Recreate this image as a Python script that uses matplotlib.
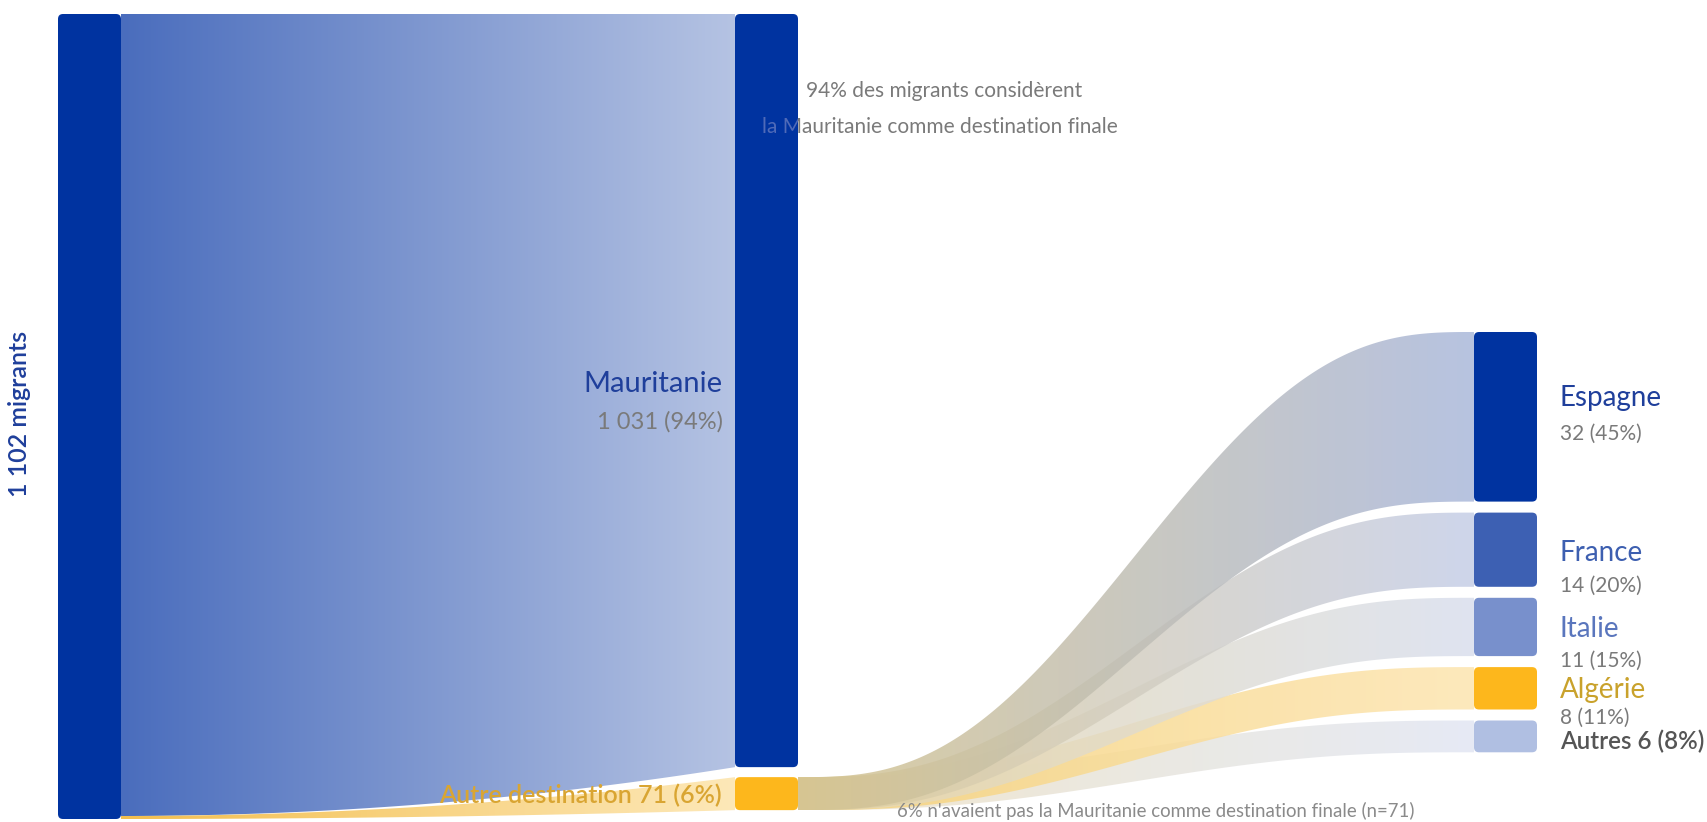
import numpy as np
import matplotlib.pyplot as plt
from matplotlib.patches import FancyBboxPatch, Polygon
from matplotlib.colors import to_rgb
from matplotlib.transforms import Bbox, TransformedBbox

plt.rcParams['font.family'] = ['Lato', 'DejaVu Sans']

# first step: final destination declared by all migrants
total = 1102
first_labels = ['Mauritanie', 'Autre destination']
first_values = [1031, 71]
first_shares = [94, 6]

# second step: breakdown of the "autre destination" group
second_labels = ['Espagne', 'France', 'Italie', 'Algérie', 'Autres']
second_values = [32, 14, 11, 8, 6]
second_shares = [45, 20, 15, 11, 8]

W, H = 1707, 822
col_x = [58, 735, 1474]
node_w = 63
top = 14
k_main = (819 - top) / total      # px per migrant, first two columns
autre_h = 33                       # compressed height of the "autre" node
node_gap = 10
k_det = 5.3                        # px per migrant, detail column
det_top = 332
det_gap = 11

node_cols = ['#0033a0', '#0033a0', '#fdb71c']
det_cols = ['#0033a0', '#3d60b3', '#7890cc', '#fdb71c', '#b0bfe2']
name_cols = ['#1f3f9b', '#3d5fb0', '#5a76bd', '#c9a22c', '#555555']
flow_left = ['#d6c590', '#e0ce9c', '#e8d8ad', '#f6d27a', '#eee2c5']
flow_right = ['#aab8db', '#c6cfe7', '#dae0ee', '#fde5b0', '#e2e7f3']


def fmt(v):
    return f'{v:,}'.replace(',', ' ')


def ease_in(t):
    return t ** 2


def smoother(t):
    return t ** 3 * (t * (6 * t - 15) + 10)


def gradient_band(ax, x, y_top, y_bot, c0, c1, alpha=1.0, z=1):
    verts = np.concatenate([np.column_stack([x, y_top]),
                            np.column_stack([x[::-1], y_bot[::-1]])])
    poly = Polygon(verts, closed=True, facecolor='none', edgecolor='none')
    ax.add_patch(poly)
    n = 256
    c0, c1 = np.array(to_rgb(c0)), np.array(to_rgb(c1))
    ramp = np.linspace(0, 1, n)[:, None]
    img = np.ones((1, n, 4))
    img[0, :, :3] = c0 + (c1 - c0) * ramp
    img[0, :, 3] = alpha
    ymin, ymax = min(y_top.min(), y_bot.min()), max(y_top.max(), y_bot.max())
    im = ax.imshow(img, extent=(x[0], x[-1], ymax, ymin), aspect='auto',
                   interpolation='bilinear', zorder=z)
    im.set_clip_path(poly)


def node(ax, x, y0, y1, color, z=3):
    r = 5
    box = FancyBboxPatch((x + r, y0 + r), node_w - 2 * r, (y1 - y0) - 2 * r,
                         boxstyle=f'round,pad={r}', facecolor=color,
                         edgecolor='none', zorder=z)
    ax.add_patch(box)
    return box


fig = plt.figure(figsize=(W / 100, H / 100), dpi=100)
ax = fig.add_axes([0, 0, 1, 1])
ax.set_xlim(0, W)
ax.set_ylim(H, 0)

# node extents
left_y = (top, top + total * k_main)
maur_y = (top, top + first_values[0] * k_main)
autre_y = (maur_y[1] + node_gap, maur_y[1] + node_gap + autre_h)
det_y = []
y = det_top
for v in second_values:
    det_y.append((y, y + v * k_det))
    y += v * k_det + det_gap

# left -> middle flows
x = np.linspace(col_x[0] + node_w, col_x[1], 300)
t = (x - x[0]) / (x[-1] - x[0])
split = left_y[1] - 3
blue_bot = split + (maur_y[1] - split) * ease_in(t)
gradient_band(ax, x, np.full_like(x, top), blue_bot, '#4a6dbd', '#b5c3e3')
or_top = split + (autre_y[0] - split) * ease_in(t)
or_bot = left_y[1] + (autre_y[1] - left_y[1]) * ease_in(t)
gradient_band(ax, x, or_top, or_bot, '#f3bf4f', '#fde8b8')

# middle -> right flows, all leaving from the full "autre" node
x = np.linspace(col_x[1] + node_w, col_x[2], 400)
t = smoother((x - x[0]) / (x[-1] - x[0]))
for i in range(len(second_values))[::-1]:
    yt = autre_y[0] + (det_y[i][0] - autre_y[0]) * t
    yb = autre_y[1] + (det_y[i][1] - autre_y[1]) * t
    gradient_band(ax, x, yt, yb, flow_left[i], flow_right[i], alpha=0.85)

# nodes
node(ax, col_x[0], *left_y, node_cols[0])
node(ax, col_x[1], *maur_y, node_cols[1])
node(ax, col_x[1], *autre_y, node_cols[2])
for i in range(len(second_values)):
    node(ax, col_x[2], *det_y[i], det_cols[i])

# annotation; the part over the Mauritanie node shows through faintly
note = [f'{first_shares[0]}% des migrants considèrent',
        'la Mauritanie comme destination finale']
note_xy = [(944, 91), (940, 127)]
node_clip = TransformedBbox(
    Bbox([[col_x[1], maur_y[0]], [col_x[1] + node_w, maur_y[1]]]), ax.transData)
for s, (nx, ny) in zip(note, note_xy):
    ax.text(nx, ny, s, ha='center', va='center', fontsize=15,
            color='#7a7a7a', zorder=2)
    ghost = ax.text(nx, ny, s, ha='center', va='center', fontsize=15,
                    color='#4f6ab8', zorder=4, clip_on=True)
    ghost.set_clip_path(None)
    ghost.set_clip_box(node_clip)

# labels
ax.text(20, 414, f'{fmt(total)} migrants', rotation=90, ha='center',
        va='center', fontsize=18, color='#1f3f9b', fontweight='semibold')
ax.text(723, 384, first_labels[0], ha='right', va='center', fontsize=21,
        color='#1f3f9b')
ax.text(723, 422, f'{fmt(first_values[0])} ({first_shares[0]}%)', ha='right',
        va='center', fontsize=17, color='#7a7a7a')
ax.text(722, 795, f'{first_labels[1]} {first_values[1]} ({first_shares[1]}%)',
        ha='right', va='center', fontsize=18, color='#d9a532',
        fontweight='semibold')

name_y = [398, 553, 629, 690]
val_y = [434, 586, 661, 718]
for i in range(4):
    ax.text(1560, name_y[i], second_labels[i], ha='left', va='center',
            fontsize=20, color=name_cols[i])
    ax.text(1560, val_y[i], f'{second_values[i]} ({second_shares[i]}%)',
            ha='left', va='center', fontsize=15, color='#7a7a7a')
ax.text(1560, 741, f'{second_labels[4]} {second_values[4]} ({second_shares[4]}%)',
        ha='left', va='center', fontsize=17.5, color=name_cols[4],
        fontweight='semibold')

ax.text(1156, 811, f"{first_shares[1]}% n'avaient pas la Mauritanie comme "
        f"destination finale (n={first_values[1]})", ha='center', va='center',
        fontsize=13.4, color='#8a8a8a')

ax.axis('off')
fig.savefig('out.png', dpi=100)
